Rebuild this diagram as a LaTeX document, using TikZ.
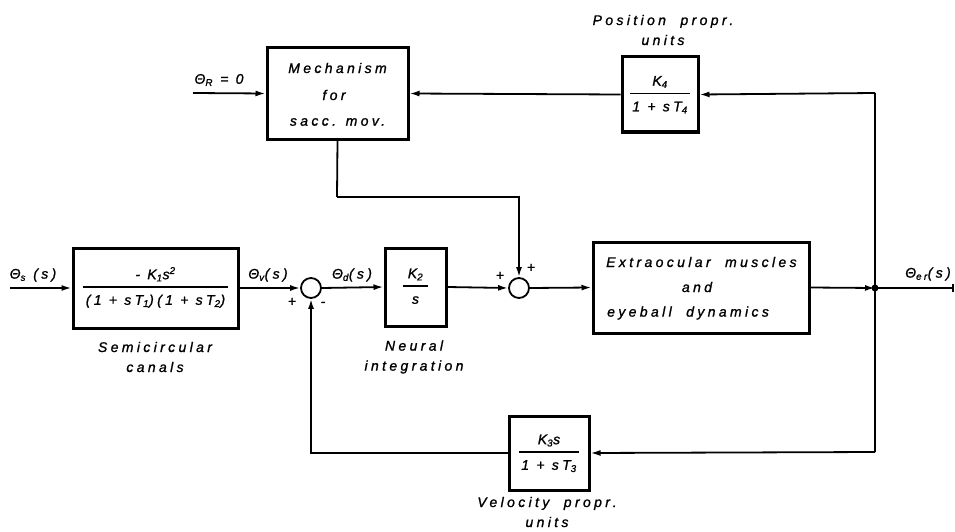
\documentclass[tikz,border=0pt]{standalone}
\usepackage{fontspec}
\newfontfamily\dfont[LetterSpace=24,FakeBold=1.2]{Liberation Sans}
\usetikzlibrary{arrows.meta}
\setlength{\arrayrulewidth}{1.6pt}
\newcommand{\fr}[2]{\begin{tabular}{@{\,}c@{\,}}#1\\[1pt]\hline\rule{0pt}{17pt}#2\end{tabular}}
\begin{document}
\begin{tikzpicture}[x=1pt,y=-1pt,
  txt/.style={font=\dfont\itshape\fontsize{14}{20}\selectfont, inner sep=0pt},
  blk/.style={draw, line width=3pt, inner sep=0pt, font=\dfont\itshape\fontsize{14}{20}\selectfont, align=center},
  sumc/.style={circle, draw, line width=1.8pt, minimum size=20pt, inner sep=0pt},
  sig/.style={line width=1.8pt, -{Latex[length=10pt,width=6pt]}},
  ln/.style={line width=1.8pt}]
\useasboundingbox (0,0) rectangle (955,532);
% blocks
\node[blk, minimum width=165pt, minimum height=80pt] (b1) at (155.5,288) {\fr{- K\textsubscript{1}s\textsuperscript{2}}{(1 + sT\textsubscript{1})(1 + sT\textsubscript{2})}};
\node[blk, minimum width=61pt, minimum height=78pt] (b2) at (415.5,287) {\fr{\,K\textsubscript{2}\,}{s}};
\node[blk, minimum width=216pt, minimum height=91pt] (b3) at (701,287.5) {};
\node[txt, anchor=west] (t3a) at (606,262) {Extraocular\ \ muscles};
\node[txt] (t3b) at (697,287) {and};
\node[txt, anchor=west] (t3c) at (607,313) {eyeball\ \ dynamics};
\node[blk, minimum width=141pt, minimum height=91pt] (mech) at (337.5,93.5) {};
\node[txt] (tm1) at (337.5,68) {Mechanism};
\node[txt] (tm2) at (334,95) {for};
\node[txt] (tm3) at (337.5,122) {sacc. mov.};
\node[blk, minimum width=76pt, minimum height=75pt] (k4) at (660,94.5) {\fr{K\textsubscript{4}}{1 + sT\textsubscript{4}}};
\node[blk, minimum width=80pt, minimum height=74pt] (k3) at (549,453) {\fr{K\textsubscript{3}s}{1 + sT\textsubscript{3}}};
% sums
\node[sumc] (s1) at (311,288) {};
\node[sumc] (s2) at (519,288) {};
\fill (875,288) circle (3.5pt);
\coordinate (j) at (875,288);
\coordinate (in1) at (10,288);
\coordinate (inR) at (193,93);
\coordinate (out) at (953,288);
\coordinate (jt) at (875,93);
\coordinate (jb) at (875,452);
\coordinate (mk) at (337,197);
% connectors
\draw[sig] (in1) -- (b1.west);
\draw[sig] (b1.east) -- (s1.west);
\draw[sig] (s1.east) -- (b2.west);
\draw[sig] (b2.east) -- (s2.west);
\draw[sig] (s2.east) -- (b3.west);
\draw[sig] (b3.east) -- (j);
\draw[ln] (j) -- (out);
\draw[line width=1.8pt] (953,284) -- (953,292);
\draw[ln] (j) -- (jt);
\draw[sig] (jt) -- (k4.east);
\draw[sig] (k4.west) -- (mech.east);
\draw[sig] (inR) -- (mech.west);
\draw[ln] (mech.south) -- (mk);
\draw[sig] (mk) -| (s2.north);
\draw[ln] (j) -- (jb);
\draw[sig] (jb) -- (k3.east);
\draw[sig] (k3.west) -| (s1.south);
% labels
\node[txt] (ls) at (33,275) {Θ\textsubscript{s} (s)};
\node[txt] (lv) at (268,275) {Θ\textsubscript{v}(s)};
\node[txt] (ld) at (352,275) {Θ\textsubscript{d}(s)};
\node[txt] (lo) at (928,274) {Θ\textsubscript{er}(s)};
\node[txt] (lr) at (219,80) {Θ\textsubscript{R} = 0};
\node[txt] (p1) at (292,302) {+};
\node[txt] (m1) at (323,304) {-};
\node[txt] (p2) at (500,276) {+};
\node[txt] (p3) at (531,268) {+};
\node[txt, align=center] (lsc) at (155,357) {Semicircular\\canals};
\node[txt, align=center] (lni) at (414,357) {Neural\\integration};
\node[txt, align=center] (lvp) at (547,512) {Velocity\ \ propr.\\units};
\node[txt, align=center] (lpp) at (663,30) {Position\ \ propr.\\units};
\end{tikzpicture}
\end{document}
